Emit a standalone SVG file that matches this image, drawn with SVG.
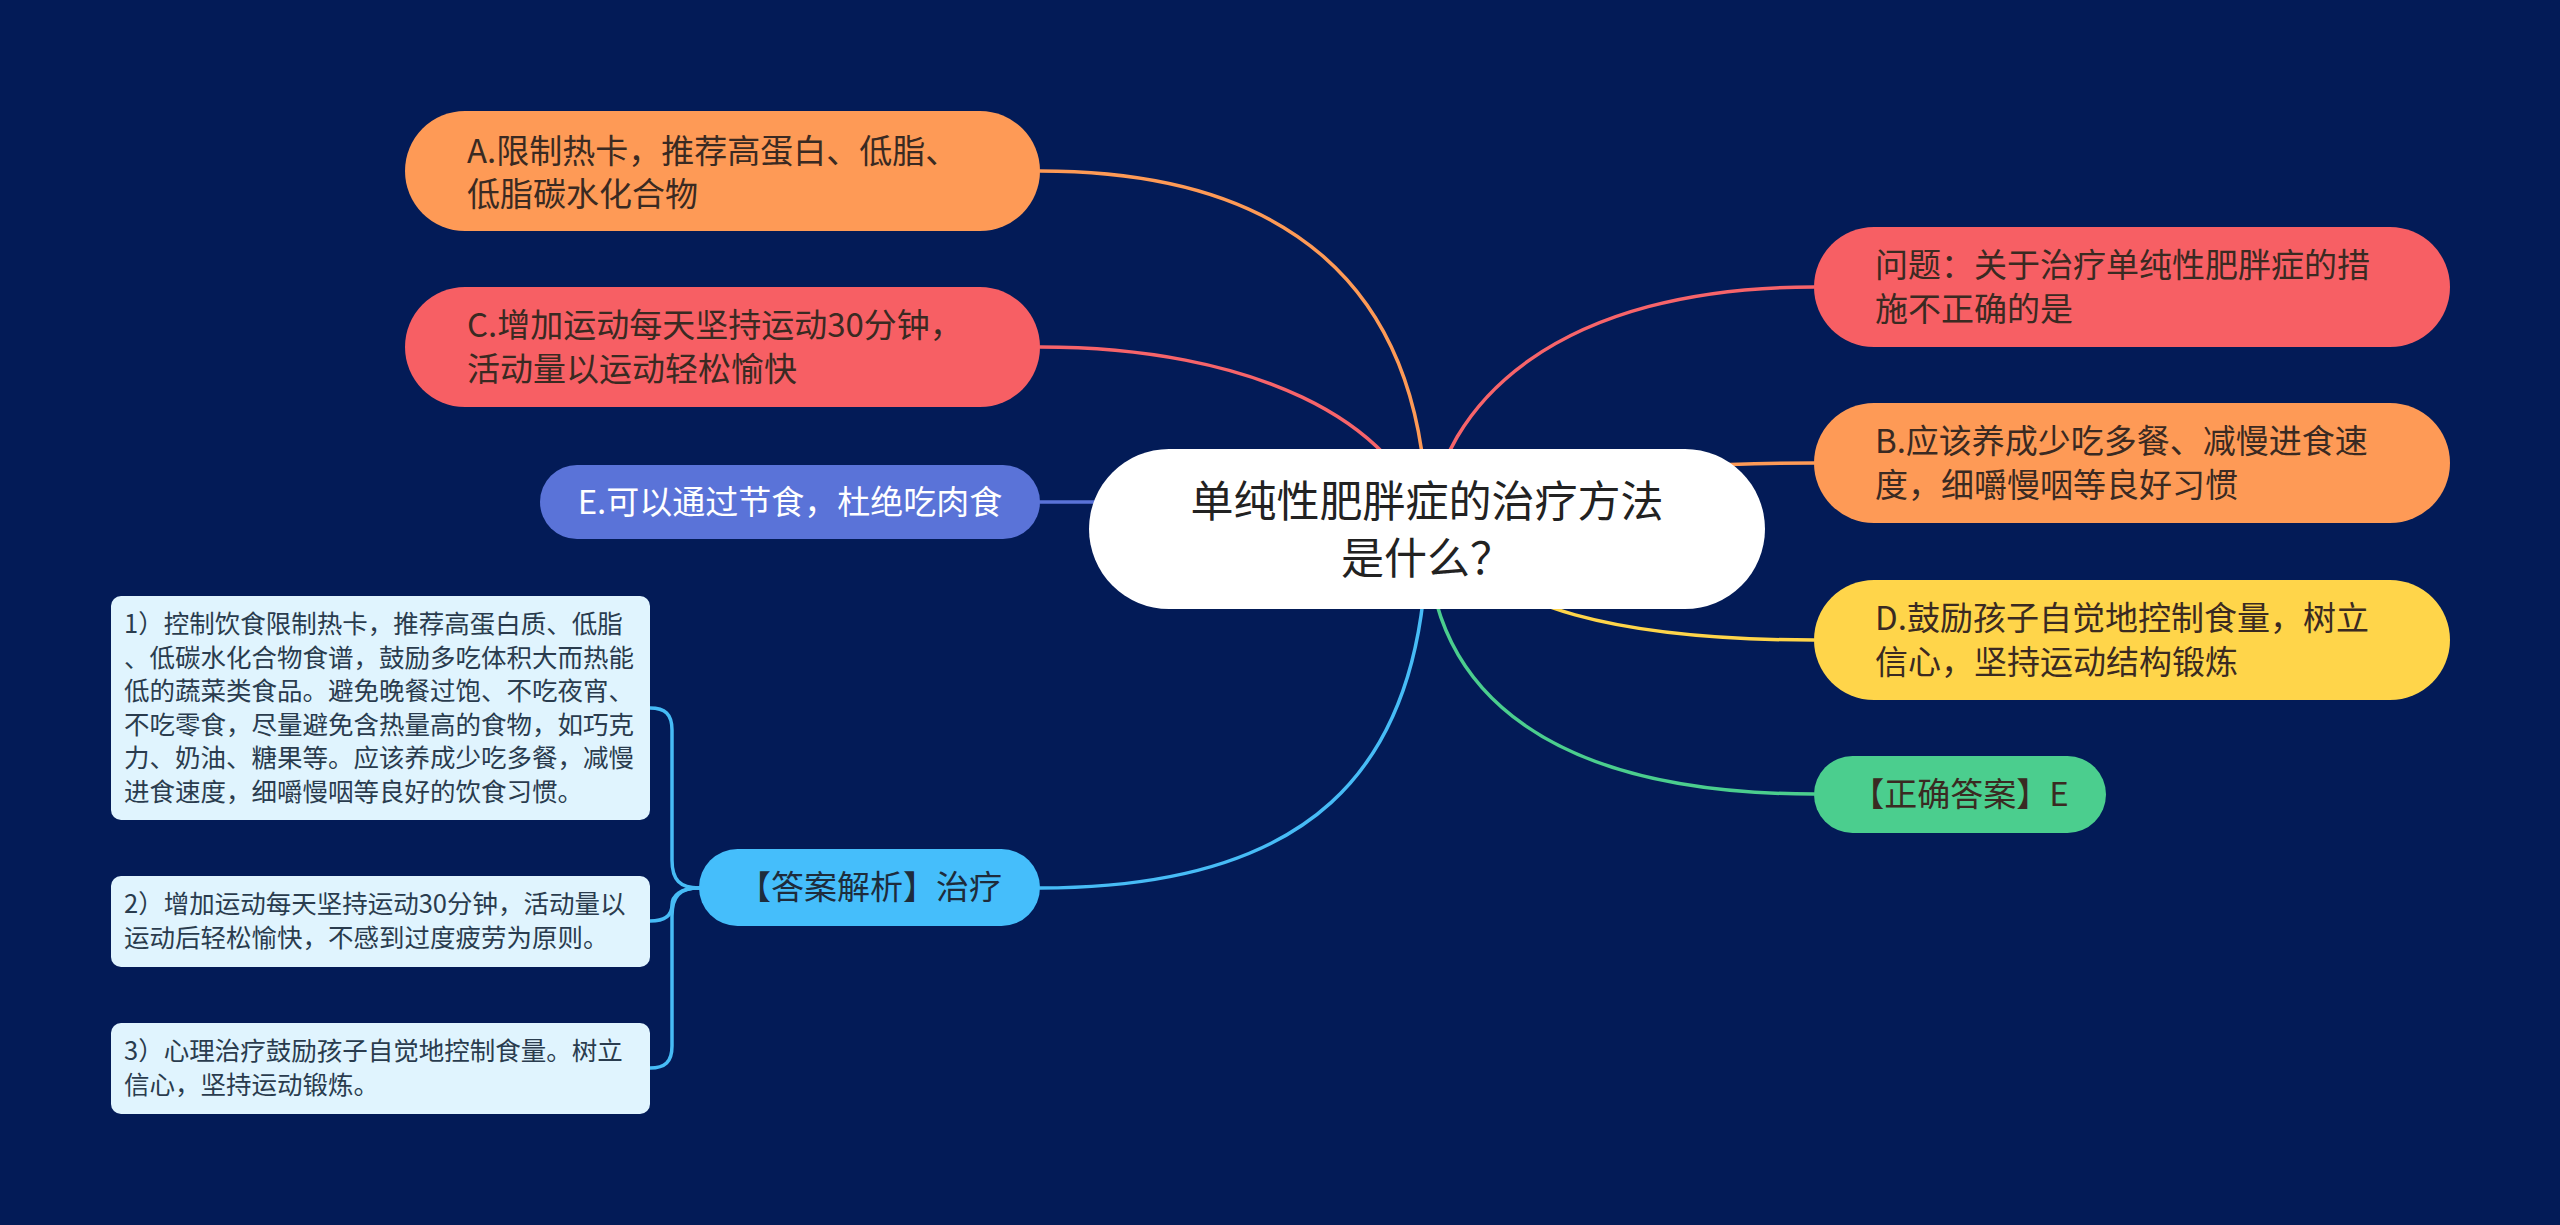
<svg xmlns="http://www.w3.org/2000/svg" width="2560" height="1225" viewBox="0 0 2560 1225">
<style>
text{font-family:"Noto Sans CJK SC","Noto Sans",sans-serif;}
.l1{font-size:33px;fill:#3a2a22;}
.w{fill:#ffffff;}
.det{font-size:25.5px;fill:#2a3c4e;}
.cen{font-size:43px;fill:#222222;}
.con{fill:none;stroke-width:3.5;stroke-linecap:round;}
</style>
<rect x="0" y="0" width="2560" height="1225" fill="#031b57"/>
<g id="connectors">
<path class="con" stroke="#fe9a56" d="M1040 171 C1280 171 1427 280 1427 529"/>
<path class="con" stroke="#f7646a" d="M1040 347 C1250 347 1400 420 1427 529"/>
<path class="con" stroke="#5a73d8" d="M1040 502 L1427 502"/>
<path class="con" stroke="#47bcf6" d="M1040 888 C1300 888 1427 780 1427 529"/>
<path class="con" stroke="#f7646a" d="M1814 287 C1560 287 1440 400 1427 529"/>
<path class="con" stroke="#fe9a56" d="M1814 463 C1650 463 1560 475 1427 529"/>
<path class="con" stroke="#ffd54a" d="M1814 640 C1620 640 1500 610 1427 529"/>
<path class="con" stroke="#4bce8e" d="M1814 794 C1560 794 1427 700 1427 529"/>
<path class="con" stroke="#47bcf6" d="M699 888 C680 888 672 880 672 860 L672 730 C672 714 665 708 650 708"/>
<path class="con" stroke="#47bcf6" d="M699 888 C680 888 672 896 672 905 C672 915 665 921 650 921"/>
<path class="con" stroke="#47bcf6" d="M699 888 C680 888 672 896 672 916 L672 1046 C672 1062 665 1068 650 1068"/>
</g>
<g id="center">
<rect x="1089" y="449" width="676" height="160" rx="80" fill="#ffffff"/>
<text class="cen" x="1427" y="517" text-anchor="middle">单纯性肥胖症的治疗方法</text>
<text class="cen" x="1427" y="574" text-anchor="middle">是什么？</text>
</g>
<g id="nodeA">
<rect x="405" y="111" width="635" height="120" rx="60" fill="#fe9a56"/>
<text class="l1" x="467" y="163">A.限制热卡，推荐高蛋白、低脂、</text>
<text class="l1" x="467" y="206">低脂碳水化合物</text>
</g>
<g id="nodeC">
<rect x="405" y="287" width="635" height="120" rx="60" fill="#f75f64"/>
<text class="l1" x="467" y="337">C.增加运动每天坚持运动30分钟，</text>
<text class="l1" x="467" y="381">活动量以运动轻松愉快</text>
</g>
<g id="nodeE">
<rect x="540" y="465" width="500" height="74" rx="37" fill="#5a73d8"/>
<text class="l1 w" x="790" y="514" text-anchor="middle">E.可以通过节食，杜绝吃肉食</text>
</g>
<g id="nodeJiexi">
<rect x="699" y="849" width="341" height="77" rx="38.5" fill="#45befb"/>
<text class="l1" x="870" y="899" text-anchor="middle" style="fill:#1e2c3c">【答案解析】治疗</text>
</g>
<g id="detail1">
<rect x="111" y="596" width="539" height="224" rx="10" fill="#e0f4fe"/>
<text class="det" x="124" y="633">1）控制饮食限制热卡，推荐高蛋白质、低脂</text>
<text class="det" x="124" y="667">、低碳水化合物食谱，鼓励多吃体积大而热能</text>
<text class="det" x="124" y="700">低的蔬菜类食品。避免晚餐过饱、不吃夜宵、</text>
<text class="det" x="124" y="734">不吃零食，尽量避免含热量高的食物，如巧克</text>
<text class="det" x="124" y="767">力、奶油、糖果等。应该养成少吃多餐，减慢</text>
<text class="det" x="124" y="801">进食速度，细嚼慢咽等良好的饮食习惯。</text>
</g>
<g id="detail2">
<rect x="111" y="876" width="539" height="91" rx="10" fill="#e0f4fe"/>
<text class="det" x="124" y="913">2）增加运动每天坚持运动30分钟，活动量以</text>
<text class="det" x="124" y="947">运动后轻松愉快，不感到过度疲劳为原则。</text>
</g>
<g id="detail3">
<rect x="111" y="1023" width="539" height="91" rx="10" fill="#e0f4fe"/>
<text class="det" x="124" y="1060">3）心理治疗鼓励孩子自觉地控制食量。树立</text>
<text class="det" x="124" y="1094">信心，坚持运动锻炼。</text>
</g>
<g id="nodeQ">
<rect x="1814" y="227" width="636" height="120" rx="60" fill="#f75f64"/>
<text class="l1" x="1875" y="277">问题：关于治疗单纯性肥胖症的措</text>
<text class="l1" x="1875" y="321">施不正确的是</text>
</g>
<g id="nodeB">
<rect x="1814" y="403" width="636" height="120" rx="60" fill="#fe9a56"/>
<text class="l1" x="1875" y="453">B.应该养成少吃多餐、减慢进食速</text>
<text class="l1" x="1875" y="497">度，细嚼慢咽等良好习惯</text>
</g>
<g id="nodeD">
<rect x="1814" y="580" width="636" height="120" rx="60" fill="#ffd54a"/>
<text class="l1" x="1875" y="630">D.鼓励孩子自觉地控制食量，树立</text>
<text class="l1" x="1875" y="674">信心，坚持运动结构锻炼</text>
</g>
<g id="nodeAns">
<rect x="1814" y="756" width="292" height="77" rx="38.5" fill="#4bce8e"/>
<text class="l1" x="1960" y="806" text-anchor="middle">【正确答案】E</text>
</g>
</svg>
